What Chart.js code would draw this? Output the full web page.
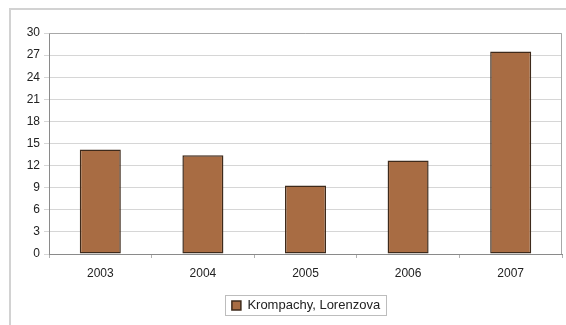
<!DOCTYPE html>
<html>
<head>
<meta charset="utf-8">
<script src="https://cdn.jsdelivr.net/npm/chart.js@4"></script>
<style>
  html, body { margin: 0; padding: 0; background: #fff; }
  #wrap { width: 566px; height: 325px; position: relative; }
</style>
</head>
<body>
<div id="wrap"><canvas id="myBarChart" width="566" height="325"></canvas></div>
<script>
var xValues = ["2003", "2004", "2005", "2006", "2007"];
var yValues = [14.2, 13.4, 9.3, 12.7, 27.5];
var seriesName = "Krompachy, Lorenzova";
var yTicks = [0, 3, 6, 9, 12, 15, 18, 21, 24, 27, 30];

var barColor = "#a86c43";
var barBorder = "#3e2a1b";

// outer frame + plot box + box round the legend
var framePlugin = {
    id: "frame",
    afterLayout: function (chart) {
        // centre the legend under the plot area, not the whole canvas
        var lg = chart.legend;
        if (!lg) return;
        var a = chart.chartArea;
        var shift = Math.round((a.left + a.right) / 2 - (lg.left + lg.right) / 2);
        lg.left += shift;
        lg.right += shift;
    },
    beforeDraw: function (chart) {
        var ctx = chart.ctx;
        ctx.save();
        ctx.strokeStyle = "#d2d2d2";
        ctx.lineWidth = 2;
        ctx.strokeRect(10, 9, 600, 400);
        ctx.restore();
    },
    afterDatasetsDraw: function (chart) {
        var ctx = chart.ctx;
        var a = chart.chartArea;
        ctx.save();
        ctx.strokeStyle = "#a8a8a8";
        ctx.lineWidth = 1;
        ctx.beginPath();
        ctx.moveTo(a.left, a.top + 0.5);
        ctx.lineTo(a.right - 0.5, a.top + 0.5);
        ctx.lineTo(a.right - 0.5, a.bottom);
        ctx.stroke();
        var lg = chart.legend;
        if (lg && lg.legendHitBoxes && lg.legendHitBoxes.length) {
            var hb = lg.legendHitBoxes[0];
            ctx.strokeStyle = "#bdbdbd";
            ctx.strokeRect(Math.round(hb.left) - 6.5, Math.round(hb.top) - 3.5, Math.round(hb.width) + 13, Math.round(hb.height) + 7);
        }
        ctx.restore();
    }
};

function createChart() {
    new Chart("myBarChart", {
        type: "bar",
        data: {
            labels: xValues,
            datasets: [{
                label: seriesName,
                backgroundColor: barColor,
                borderColor: barBorder,
                borderWidth: 1.5,
                borderSkipped: false,
                barPercentage: 0.8,
                categoryPercentage: 0.5,
                data: yValues
            }]
        },
        plugins: [framePlugin],
        options: {
            responsive: false,
            animation: false,
            devicePixelRatio: 1,
            layout: { padding: { left: 10, top: 33, right: 4, bottom: 3 } },
            plugins: {
                legend: {
                    display: true,
                    position: "bottom",
                    labels: {
                        boxWidth: 9,
                        boxHeight: 9,
                        padding: 8,
                        color: "#222",
                        font: { family: "Liberation Sans, Arial", size: 13 }
                    }
                },
                title: { display: false },
                tooltip: { enabled: false }
            },
            scales: {
                x: {
                    grid: {
                        display: true,
                        drawOnChartArea: false,
                        drawTicks: true,
                        tickLength: 4,
                        color: "#b0b0b0"
                    },
                    border: { color: "#8a8a8a" },
                    ticks: {
                        color: "#222",
                        padding: 8,
                        font: { family: "Liberation Sans, Arial", size: 12 }
                    },
                    afterFit: function (scale) { scale.height = 37; }
                },
                y: {
                    min: 0,
                    max: 30,
                    afterBuildTicks: function (scale) {
                        scale.ticks = yTicks.map(function (v) { return { value: v }; });
                    },
                    grid: {
                        color: "#d6d6d6",
                        tickLength: 5,
                        drawTicks: true
                    },
                    border: { color: "#8a8a8a" },
                    ticks: {
                        color: "#222",
                        padding: 4,
                        font: { family: "Liberation Sans, Arial", size: 12 }
                    },
                    afterFit: function (scale) { scale.width = 39; }
                }
            }
        }
    });
}

createChart();
</script>
</body>
</html>
